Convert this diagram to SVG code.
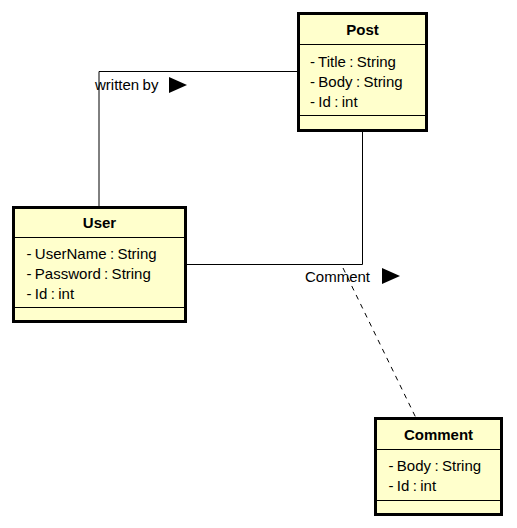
<svg xmlns="http://www.w3.org/2000/svg" width="517" height="528" viewBox="0 0 517 528">
<style>
.box{fill:#FFFFCC;stroke:#000;stroke-width:3}
.div{stroke:#000;stroke-width:1}
.t{font-family:"Liberation Sans",Arial,sans-serif;font-size:15px;fill:#000;word-spacing:-0.8px}
.title{font-weight:bold;text-anchor:middle}
.conn{fill:none;stroke:#000;stroke-width:1}
.dash{stroke-dasharray:5,5}
</style>
<rect width="517" height="528" fill="#fff"/>
<g id="connectors">
<polyline class="conn" points="99,207 99,71.5 298,71.5"/>
<polyline class="conn" points="186,264.5 362.5,264.5 362.5,130"/>
<line class="conn dash" x1="343" y1="268" x2="416" y2="418"/>
<text class="t" x="95" y="90">written by</text>
<polygon points="169,77 187,85 169,93" fill="#000"/>
<text class="t" x="305" y="282">Comment</text>
<polygon points="382,268 400,276 382,284" fill="#000"/>
</g>
<g id="Post">
<rect class="box" x="298.5" y="13.5" width="128" height="117"/>
<line class="div" x1="298" y1="44.5" x2="427" y2="44.5"/>
<line class="div" x1="298" y1="115.5" x2="427" y2="115.5"/>
<text class="t title" x="362.5" y="35">Post</text>
<text class="t" x="310" y="67">- Title : String</text>
<text class="t" x="310" y="87">- Body : String</text>
<text class="t" x="310" y="107">- Id : int</text>
</g>
<g id="User">
<rect class="box" x="13.5" y="207.5" width="172" height="114"/>
<line class="div" x1="13" y1="237.5" x2="186" y2="237.5"/>
<line class="div" x1="13" y1="307.5" x2="186" y2="307.5"/>
<text class="t title" x="99.5" y="228">User</text>
<text class="t" x="26.5" y="259">- UserName : String</text>
<text class="t" x="26.5" y="279">- Password : String</text>
<text class="t" x="26.5" y="299">- Id : int</text>
</g>
<g id="Comment">
<rect class="box" x="375.5" y="418.5" width="126" height="96"/>
<line class="div" x1="375" y1="449.5" x2="502" y2="449.5"/>
<line class="div" x1="375" y1="500.5" x2="502" y2="500.5"/>
<text class="t title" x="438.5" y="440">Comment</text>
<text class="t" x="388.5" y="471">- Body : String</text>
<text class="t" x="388.5" y="491">- Id : int</text>
</g>
</svg>
